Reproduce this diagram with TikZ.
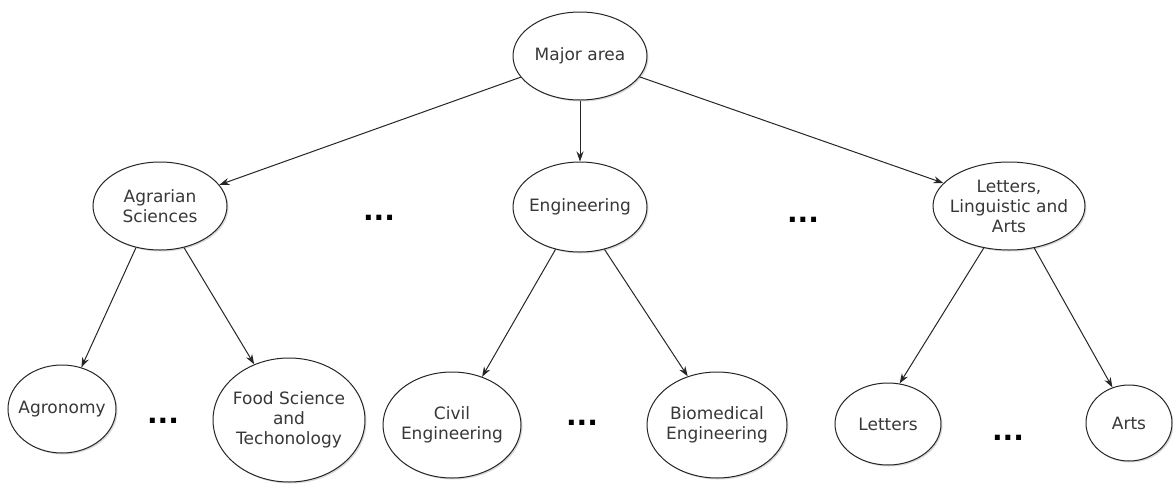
\documentclass[tikz,border=0pt]{standalone}
\usepackage{fontspec}
\setmainfont{DejaVu Sans}
\usetikzlibrary{shapes.geometric,arrows.meta,shadows}

\begin{document}
\begin{tikzpicture}[x=1pt,y=-1pt,
  area/.style={ellipse,draw=black!85,line width=1pt,fill=white,inner sep=-20pt,
    align=center,text=black!78,font=\fontsize{17}{20}\selectfont,
    drop shadow={shadow xshift=1.5pt,shadow yshift=-1.5pt,opacity=0.3}},
  link/.style={-{Stealth[length=10pt,width=7pt]},draw=black!85,line width=1pt},
  gap/.style={anchor=base,font=\fontsize{28}{28}\bfseries\selectfont}]
\useasboundingbox (0,0) rectangle (1173,485);

% top
\node[area,minimum width=134pt,minimum height=88pt] (major) at (580,56) {Major area};

% areas
\node[area,minimum width=134pt,minimum height=88pt] (agr) at (160,206) {Agrarian\\Sciences};
\node[area,minimum width=134pt,minimum height=90pt] (eng) at (580,207) {Engineering};
\node[area,minimum width=152pt,minimum height=88pt] (lla) at (1009,206) {Letters,\\Linguistic and\\Arts};
\node[gap] (dotsa) at (379,220) {...};
\node[gap] (dotsb) at (803,222) {...};

% courses
\node[area,minimum width=108pt,minimum height=88pt] (agro) at (62,409) {Agronomy};
\node[area,minimum width=152pt,minimum height=124pt] (food) at (289,420) {Food Science\\and\\Techonology};
\node[area,minimum width=138pt,minimum height=106pt] (civil) at (452,425) {Civil\\Engineering};
\node[area,minimum width=140pt,minimum height=106pt] (bio) at (717,425) {Biomedical\\Engineering};
\node[area,minimum width=106pt,minimum height=82pt] (lett) at (888,424) {Letters};
\node[area,minimum width=86pt,minimum height=76pt] (arts) at (1129,423) {Arts};
\node[gap] (dotsc) at (163,423) {...};
\node[gap] (dotsd) at (582,425) {...};
\node[gap] (dotse) at (1008,440) {...};

\draw[link] (major) -- (agr);
\draw[link] (major) -- (eng);
\draw[link] (major) -- (lla);
\draw[link] (agr.-120) -- (agro.65);
\draw[link] (agr.-60) -- (food.122);
\draw[link] (eng.-120) -- (civil.58);
\draw[link] (eng.-60) -- (bio.121);
\draw[link] (lla.-121) -- (lett.74);
\draw[link] (lla.-59) -- (arts.115);
\end{tikzpicture}
\end{document}
